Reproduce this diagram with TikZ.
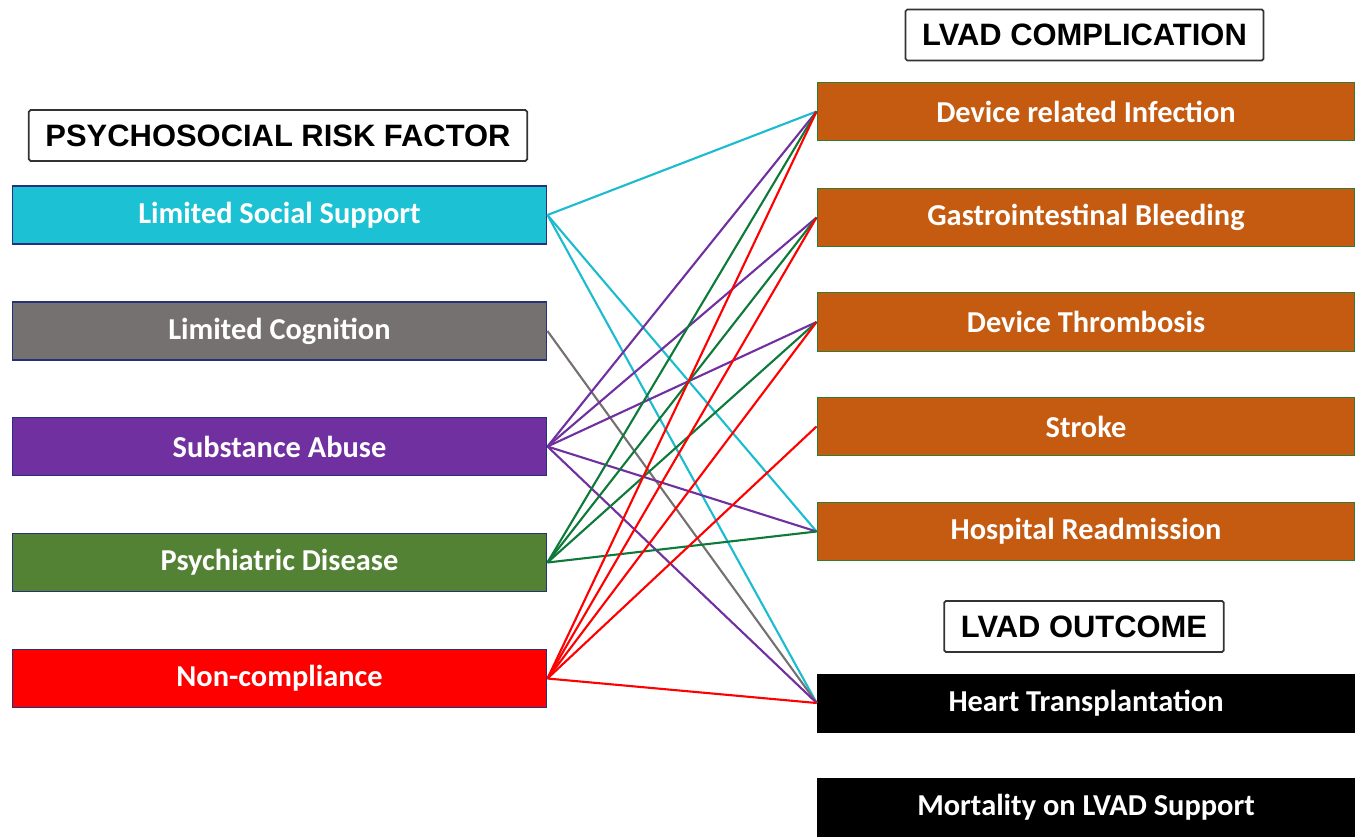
\documentclass[tikz,border=0pt]{standalone}
\usepackage{fontspec}
\setmainfont{Carlito}
\newfontfamily\headfont{Liberation Sans}
\usepackage{xcolor}
\definecolor{riskcyan}{HTML}{1DC1D4}
\definecolor{riskgray}{HTML}{767171}
\definecolor{riskpurple}{HTML}{7030A0}
\definecolor{riskgreen}{HTML}{548235}
\definecolor{riskred}{HTML}{FF0000}
\definecolor{compl}{HTML}{C55A11}
\definecolor{linecyan}{HTML}{1BBCD0}
\definecolor{linegreen}{HTML}{0E7A3A}
\definecolor{boxblue}{HTML}{27307A}
\definecolor{boxgreen}{HTML}{2E7D32}
\tikzstyle{link} = [line width=1.2pt]

\begin{document}
\begin{tikzpicture}
        [
            x=0.02cm, y=-0.02cm,
            risk/.style={rectangle,draw=boxblue,line width=0.6pt,minimum width=10.7cm,minimum height=1.16cm,
                text=white,font=\fontsize{17.3}{20}\selectfont\bfseries},
            comp/.style={rectangle,fill=compl,draw=boxgreen,line width=0.6pt,minimum width=10.76cm,minimum height=1.17cm,
                text=white,font=\fontsize{17.3}{20}\selectfont\bfseries},
            outc/.style={rectangle,fill=black,minimum width=10.76cm,minimum height=1.18cm,
                text=white,font=\fontsize{17.3}{20}\selectfont\bfseries},
            head/.style={rectangle,draw=black!80,line width=1pt,rounded corners=1pt,minimum height=1.02cm,
                inner xsep=9.5pt,font=\headfont\fontsize{17.6}{20}\selectfont\bfseries},
        ]
    \useasboundingbox (0,0) rectangle (1360,836);

    % headings
    \node[head] (hrisk) at (278,135.5){PSYCHOSOCIAL RISK FACTOR};
    \node[head] (hcomp) at (1084.5,35){LVAD COMPLICATION};
    \node[head] (hout) at (1084,626.5){LVAD OUTCOME};

    % risk factors
    \node[risk,fill=riskcyan] (social) at (279.5,215){Limited Social Support};
    \node[risk,fill=riskgray] (cognition) at (279.5,331){Limited Cognition};
    \node[risk,fill=riskpurple] (substance) at (279.5,446.5){Substance Abuse};
    \node[risk,fill=riskgreen] (psych) at (279.5,562.5){Psychiatric Disease};
    \node[risk,fill=riskred] (noncomp) at (279.5,678.5){Non-compliance};

    % complications
    \node[comp] (infection) at (1086,111.5){Device related Infection};
    \node[comp] (bleeding) at (1086,217.5){Gastrointestinal Bleeding};
    \node[comp] (thrombosis) at (1086,322){Device Thrombosis};
    \node[comp] (stroke) at (1086,426.5){Stroke};
    \node[comp] (readmission) at (1086,531.5){Hospital Readmission};

    % outcomes
    \node[outc] (transplant) at (1086,703){Heart Transplantation};
    \node[outc] (mortality) at (1086,807){Mortality on LVAD Support};

    % links risk factor -> complication / outcome
    \foreach \to in {infection,readmission,transplant}
        \draw[link,linecyan] (social.east) -- (\to.west);
    \draw[link,riskgray] (cognition.east) -- (transplant.west);
    \foreach \to in {infection,bleeding,thrombosis,readmission,transplant}
        \draw[link,riskpurple] (substance.east) -- (\to.west);
    \foreach \to in {infection,bleeding,thrombosis,readmission}
        \draw[link,linegreen] (psych.east) -- (\to.west);
    \foreach \to in {infection,bleeding,thrombosis,stroke,transplant}
        \draw[link,riskred] (noncomp.east) -- (\to.west);
    \end{tikzpicture}
\end{document}
